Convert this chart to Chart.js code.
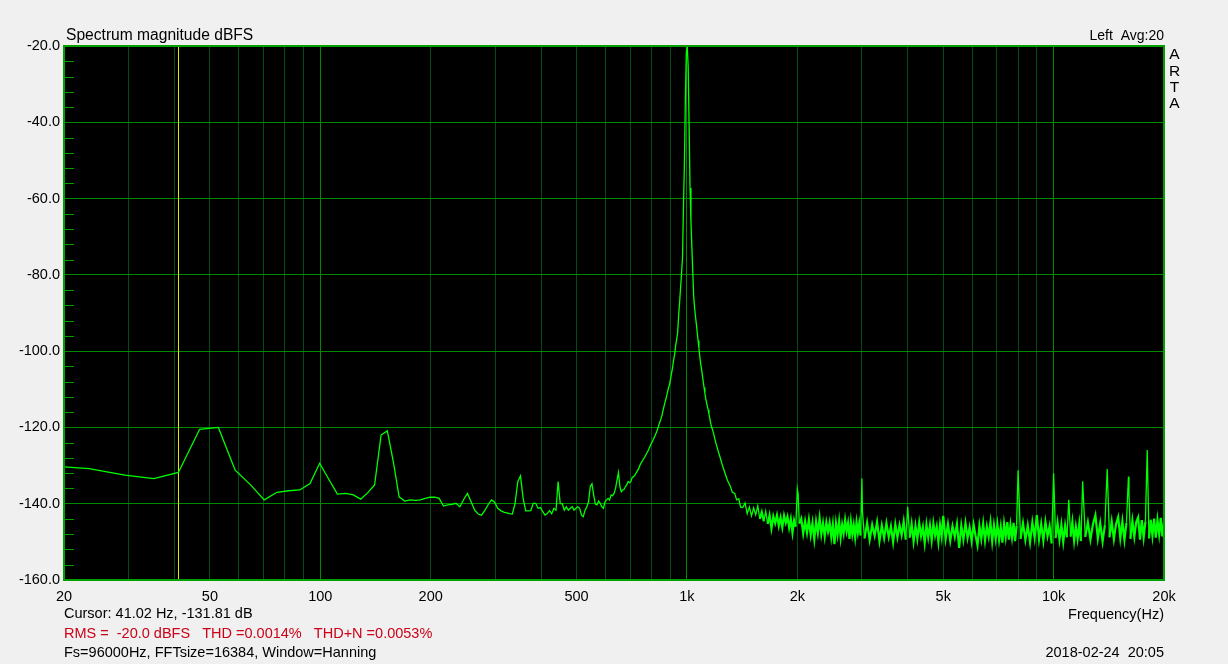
<!DOCTYPE html>
<html>
<head>
<meta charset="utf-8">
<script src="https://cdn.jsdelivr.net/npm/chart.js@4"></script>
<style>
html, body { margin: 0; padding: 0; background: #f0f0f0; }
canvas { display: block; }
</style>
</head>
<body>
<canvas id="spectrum" width="1228" height="664"></canvas>
<script>
// spectrum, low part (FFT bins, 5.86 Hz apart)
var lowFreq = [17.58, 23.44, 29.30, 35.16, 41.02, 46.88, 52.73, 58.59, 64.45, 70.31, 76.17, 82.03, 87.89, 93.75, 99.61,
  105.47, 111.33, 117.19, 123.05, 128.91, 134.77, 140.63, 146.48, 152.34, 158.20, 164.06, 169.92, 175.78, 181.64, 187.50,
  193.36, 199.22, 205.08, 210.94, 216.80, 222.66, 228.52, 234.38, 240.23, 246.09, 251.95, 257.81, 263.67, 269.53, 275.39,
  281.25, 287.11, 292.97, 298.83, 304.69, 310.55, 316.41, 322.27, 328.13, 333.98, 339.84, 345.70, 351.56, 357.42, 363.28,
  369.14, 375.00, 380.86, 386.72, 392.58, 398.44, 404.30, 410.16, 416.02, 421.88, 427.73, 433.59, 439.45, 445.31, 451.17,
  457.03, 462.89, 468.75, 474.61, 480.47, 486.33, 492.19, 498.05, 503.91, 509.77, 515.63, 521.48, 527.34, 533.20, 539.06,
  544.92, 550.78, 556.64, 562.50, 568.36, 574.22, 580.08, 585.94, 591.80, 597.66, 603.52, 609.38, 615.23, 621.09, 626.95,
  632.81, 638.67, 644.53, 650.39, 656.25, 662.11, 667.97, 673.83, 679.69, 685.55, 691.41, 697.27, 703.13, 708.98, 714.84,
  720.70, 726.56, 732.42, 738.28, 744.14, 750.00, 755.86, 761.72, 767.58, 773.44, 779.30, 785.16, 791.02, 796.88, 802.73];
var lowDb = [-130.0, -130.8, -132.5, -133.4, -131.81, -120.5, -120.0, -131.2, -135.0, -139.0, -137.0, -136.6, -136.4, -134.7, -129.4,
  -133.6, -137.5, -137.3, -137.7, -138.8, -137.1, -135.1, -122.0, -120.9, -129.0, -138.2, -139.3, -139.0, -139.1, -139.0,
  -138.6, -138.3, -138.3, -138.6, -140.6, -140.3, -140.2, -139.9, -140.8, -138.9, -137.3, -139.5, -141.7, -142.7, -143.0,
  -141.7, -140.2, -139.0, -139.6, -141.2, -141.8, -142.2, -142.4, -142.6, -142.7, -139.9, -134.2, -132.7, -138.6, -141.9,
  -141.9, -141.8, -139.9, -139.9, -141.2, -141.0, -142.1, -143.0, -142.6, -141.8, -142.6, -141.2, -141.7, -134.2, -140.0,
  -140.0, -141.7, -140.8, -141.7, -141.2, -140.8, -141.7, -141.2, -140.8, -141.2, -143.0, -143.4, -141.7, -140.8, -139.5,
  -135.5, -134.8, -137.7, -140.1, -140.3, -139.3, -139.9, -140.8, -141.2, -139.5, -139.0, -138.6, -139.0, -137.7, -137.9,
  -137.3, -136.0, -133.8, -131.8, -135.5, -136.9, -136.4, -136.2, -135.5, -135.0, -134.2, -134.5, -134.2, -133.1, -132.9,
  -132.5, -132.0, -131.4, -130.8, -129.9, -129.3, -128.8, -128.2, -127.7, -127.1, -126.5, -125.9, -125.2, -124.5, -123.9];

// the 1 kHz tone
var peakFreq = [808.59, 814.45, 820.31, 826.17, 832.03, 837.89, 843.75, 849.61, 855.47, 861.33, 867.19, 873.05, 878.91, 884.77,
  890.63, 896.48, 902.34, 908.20, 914.06, 919.92, 925.78, 931.64, 937.50, 943.36, 949.22, 955.08, 960.94, 966.80, 972.66,
  978.52, 984.38, 990.23, 996.09, 1001.95, 1007.81, 1013.67, 1019.53, 1025.39, 1031.25, 1037.11, 1042.97, 1048.83, 1054.69,
  1060.55, 1066.41, 1072.27, 1078.13, 1083.98, 1089.84, 1095.70, 1101.56, 1107.42, 1113.28, 1119.14, 1125.00, 1130.86,
  1136.72, 1142.58, 1148.44, 1154.30, 1160.16, 1166.02, 1180, 1200, 1215, 1230, 1250, 1270, 1290, 1310, 1330, 1350, 1366, 1385, 1400];
var peakDb = [-123.3, -122.6, -121.9, -121.2, -120.4, -119.4, -118.6, -117.7, -116.7, -115.4, -114.2, -113.1, -112.1, -110.8,
  -109.6, -108.7, -107.2, -105.7, -104.1, -102.3, -100.7, -98.5, -96.9, -95.1, -90.6, -87.2, -83.2, -79.5, -75.3,
  -61.7, -50.4, -33.4, -21.8, -20.3, -25.5, -41.2, -57.2, -66.1, -72.7, -79.0, -85.5, -88.5, -90.8,
  -92.8, -95.0, -97.2, -99.2, -101.4, -103.3, -104.6, -106.3, -108.0, -109.5, -111.0, -112.4, -113.5,
  -114.5, -115.4, -116.5, -117.6, -118.8, -119.7, -121.3, -124.2, -126.0, -127.7, -130.0, -132.0, -133.9, -135.2, -137.0, -137.3, -139.0, -138.7, -140.9];

// noise floor and harmonics above the tone
var noiseFreq = [1420, 1440, 1460, 1480, 1500, 1520, 1540, 1560, 1580, 1600, 1620, 1640, 1660, 1680, 1700, 1720, 1740, 1760,
  1780, 1800, 1820, 1840, 1860, 1880, 1900, 1920, 1940, 1960, 1980, 2000, 2010,
  2025, 2050, 2075, 2100, 2125, 2150, 2175, 2200, 2225, 2250, 2275, 2300, 2325, 2350, 2375, 2400, 2425, 2450, 2475, 2500,
  2525, 2550, 2575, 2600, 2625, 2650, 2675, 2700, 2725, 2750, 2775, 2800, 2825, 2850, 2875, 2900, 2925, 2950, 2975, 3000, 3010,
  3050, 3100, 3150, 3200, 3250, 3300, 3350, 3400, 3450, 3500, 3550, 3600, 3650, 3700, 3750, 3800, 3850, 3900, 3950, 4000,
  4050, 4100, 4150, 4200, 4250, 4300, 4350, 4400, 4450, 4500, 4550, 4600, 4650, 4700, 4750, 4800, 4850, 4900, 4950, 5000,
  5075, 5150, 5225, 5300, 5375, 5450, 5525, 5600, 5675, 5750, 5825, 5900, 5975, 6050, 6125, 6200, 6275, 6350, 6425, 6500,
  6575, 6650, 6725, 6800, 6875, 6950, 7025, 7100, 7175, 7250, 7325, 7400, 7475, 7550, 7625, 7700, 7775, 7850, 7925, 8000,
  8125, 8250, 8375, 8500, 8625, 8750, 8875, 9000, 9125, 9250, 9375, 9500, 9625, 9750, 9875, 10000,
  10125, 10250, 10375, 10500, 10625, 10750, 10875, 11000, 11125, 11250, 11375, 11500, 11625, 11750, 11875, 12000,
  12200, 12400, 12600, 12800, 13000, 13200, 13400, 13600, 13800, 14000, 14200, 14400, 14600, 14800, 15000, 15200, 15400,
  15600, 15800, 16000, 16050, 16200, 16400, 16600, 16800, 17000, 17200, 17400, 17600, 17800, 18000, 18200, 18400, 18600,
  18800, 19000, 19200, 19400, 19600, 19800, 20000];
var noiseDb = [-141.0, -139.8, -142.6, -140.9, -143.2, -141.1, -142.9, -140.6, -144.0, -142.2, -144.6, -142.0, -145.3, -143.0,
  -146.5, -143.3, -145.1, -143.0, -145.8, -143.6, -146.2, -143.1, -145.0, -143.4, -146.3, -144.0, -147.6, -144.4, -146.0, -136.1, -137.4,
  -145.2, -143.9, -147.8, -144.6, -147.6, -144.2, -148.2, -145.0, -149.3, -144.7, -147.7, -143.8, -148.0, -145.1, -148.6, -144.9,
  -147.3, -145.0, -148.7, -145.4, -150.6, -145.2, -148.1, -144.6, -148.9, -145.5, -147.8, -144.3, -147.2, -145.1, -149.2, -144.8,
  -148.0, -145.6, -148.8, -144.9, -147.6, -145.2, -148.3, -133.4, -142.0,
  -149.1, -145.0, -149.5, -145.5, -148.4, -144.8, -149.8, -145.7, -149.0, -145.1, -148.7, -145.9, -150.1, -145.4, -148.8, -145.6,
  -148.2, -144.7, -149.4, -140.8,
  -148.9, -145.3, -149.9, -145.8, -149.2, -145.0, -148.5, -146.1, -150.3, -145.5, -148.8, -145.7, -149.6, -145.2, -148.3, -146.0,
  -150.0, -145.6, -148.6, -143.2,
  -149.3, -145.4, -149.7, -145.9, -148.7, -145.3, -151.6, -145.7, -149.4, -145.1, -149.0, -146.2, -149.8, -145.5, -148.4, -150.9,
  -145.8, -149.2, -145.2, -149.7, -146.0, -148.6, -144.9, -149.9, -145.7, -149.1, -145.4, -149.5, -146.1, -150.2, -145.3, -148.7,
  -144.8, -149.4, -145.6, -148.8, -145.0, -149.8, -145.8, -131.2,
  -149.2, -145.1, -149.5, -145.7, -150.1, -144.9, -148.9, -143.0, -149.3, -145.3, -149.7, -144.8, -148.5, -145.9, -150.4, -132.0,
  -149.0, -145.0, -149.4, -145.5, -150.0, -145.7, -148.8, -139.0, -148.6, -144.8, -149.7, -146.0, -149.2, -145.2, -149.8, -134.1,
  -148.7, -144.9, -149.4, -145.4, -143.0, -149.1, -145.1, -149.9, -145.6, -130.9, -148.8, -144.7, -149.3, -145.3, -143.5, -149.0,
  -144.6, -149.5, -145.0, -132.9, -137.2, -149.2, -144.5, -148.7, -144.8, -143.6, -149.4, -144.3, -148.9, -144.6, -125.9, -149.1,
  -144.2, -148.4, -143.9, -148.9, -144.3, -148.0, -143.7, -148.6, -144.8];

var gridFreqs = [20, 30, 40, 50, 60, 70, 80, 90, 100, 200, 300, 400, 500, 600, 700, 800, 900,
  1000, 2000, 3000, 4000, 5000, 6000, 7000, 8000, 9000, 10000, 20000];
var decadeFreqs = [100, 1000, 10000];
var xLabelFreqs = [20, 50, 100, 200, 500, 1000, 2000, 5000, 10000, 20000];
var xLabelText = ["20", "50", "100", "200", "500", "1k", "2k", "5k", "10k", "20k"];
var yTicks = [-160, -140, -120, -100, -80, -60, -40, -20];
var cursorFreq = 41.02;

var titleText = "Spectrum magnitude dBFS";
var channelText = "Left  Avg:20";
var brandLetters = ["A", "R", "T", "A"];
var cursorText = "Cursor: 41.02 Hz, -131.81 dB";
var statsText = "RMS =  -20.0 dBFS   THD =0.0014%   THD+N =0.0053%";
var setupText = "Fs=96000Hz, FFTsize=16384, Window=Hanning";
var xTitleText = "Frequency(Hz)";
var dateText = "2018-02-24  20:05";

var FONT = '"Liberation Sans", Arial, sans-serif';
var MAJOR = "#008a00";
var MINOR = "#004d16";

var allFreq = lowFreq.concat(peakFreq, noiseFreq);
var allDb = lowDb.concat(peakDb, noiseDb);
var points = allFreq.map(function (f, i) { return {x: f, y: allDb[i]}; });

var plotDecor = {
    id: "plotDecor",
    beforeDraw: function (chart) {
        var a = chart.chartArea, c = chart.ctx;
        c.save();
        c.fillStyle = "#000";
        c.fillRect(a.left, a.top, a.right - a.left, a.bottom - a.top);
        c.restore();
    },
    beforeDatasetsDraw: function (chart) {
        var a = chart.chartArea, c = chart.ctx;
        var ys = chart.scales.y, xs = chart.scales.x;
        c.save();
        // small ticks every 4 dB on the left edge
        c.strokeStyle = "#00a000";
        c.lineWidth = 1;
        for (var v = -156; v < -20; v += 4) {
            if (v % 20 === 0) continue;
            var py = Math.round(ys.getPixelForValue(v)) + 0.5;
            c.beginPath();
            c.moveTo(a.left, py);
            c.lineTo(a.left + 10, py);
            c.stroke();
        }
        // cursor
        var px = Math.round(xs.getPixelForValue(cursorFreq)) + 0.5;
        c.strokeStyle = "#e6e600";
        c.beginPath();
        c.moveTo(px, a.top);
        c.lineTo(px, a.bottom);
        c.stroke();
        c.restore();
    },
    afterDraw: function (chart) {
        var a = chart.chartArea, c = chart.ctx;
        c.save();
        c.strokeStyle = "#00a000";
        c.lineWidth = 2;
        c.strokeRect(a.left, a.top, a.right - a.left, a.bottom - a.top);

        c.fillStyle = "#000";
        c.textBaseline = "alphabetic";
        c.font = "15.6px " + FONT;
        c.textAlign = "left";
        c.fillText(titleText, 66, 39.5);
        c.font = "14px " + FONT;
        c.textAlign = "right";
        c.fillText(channelText, 1164, 39.5);
        c.font = "15.5px " + FONT;
        c.textAlign = "center";
        var base = [59, 75.5, 91.5, 108];
        brandLetters.forEach(function (ch, i) { c.fillText(ch, 1174.5, base[i]); });

        c.font = "14.5px " + FONT;
        c.textAlign = "left";
        c.fillText(cursorText, 64, 618);
        c.fillStyle = "#cc0018";
        c.fillText(statsText, 64, 638);
        c.fillStyle = "#000";
        c.fillText(setupText, 64, 656.5);
        c.textAlign = "right";
        c.fillText(xTitleText, 1164, 619);
        c.fillText(dateText, 1164, 656.5);
        c.restore();
    }
};

var ctx = document.getElementById("spectrum").getContext("2d");
var chartSpectrum = new Chart(ctx, {
    type: "line",
    data: {
        datasets: [{
            data: points,
            borderColor: "#00ff00",
            borderWidth: 1.3,
            pointRadius: 0,
            tension: 0,
            fill: false,
            segment: {
                // the dense noise floor reads as a solid band, harmonic spikes stay thin
                borderWidth: function (c) {
                    var inFloor = c.p0.parsed.x >= 1400 && c.p0.parsed.y < -142 && c.p1.parsed.y < -142;
                    return inFloor ? 2.2 : 1.3;
                }
            }
        }]
    },
    options: {
        responsive: false,
        animation: false,
        devicePixelRatio: 1,
        layout: {padding: {top: 46, right: 64, left: 0, bottom: 0}},
        plugins: {legend: {display: false}, tooltip: {enabled: false}},
        scales: {
            x: {
                type: "logarithmic",
                min: 20,
                max: 20000,
                afterBuildTicks: function (scale) {
                    scale.ticks = gridFreqs.map(function (v) { return {value: v}; });
                },
                afterFit: function (scale) { scale.height = 84; },
                grid: {
                    color: function (c) {
                        return c.tick && decadeFreqs.indexOf(c.tick.value) >= 0 ? MAJOR : MINOR;
                    },
                    drawTicks: false,
                    lineWidth: 1
                },
                border: {display: false},
                ticks: {
                    autoSkip: false,
                    maxRotation: 0,
                    padding: 8,
                    color: "#000",
                    font: {family: FONT, size: 14.5},
                    callback: function (v) {
                        var i = xLabelFreqs.indexOf(v);
                        return i >= 0 ? xLabelText[i] : "";
                    }
                }
            },
            y: {
                min: -160,
                max: -20,
                afterBuildTicks: function (scale) {
                    scale.ticks = yTicks.map(function (v) { return {value: v}; });
                },
                afterFit: function (scale) { scale.width = 64; },
                grid: {color: MAJOR, drawTicks: false, lineWidth: 1},
                border: {display: false},
                ticks: {
                    padding: 4,
                    color: "#000",
                    font: {family: FONT, size: 14.5},
                    callback: function (v) { return v.toFixed(1); }
                }
            }
        }
    },
    plugins: [plotDecor]
});
</script>
</body>
</html>
